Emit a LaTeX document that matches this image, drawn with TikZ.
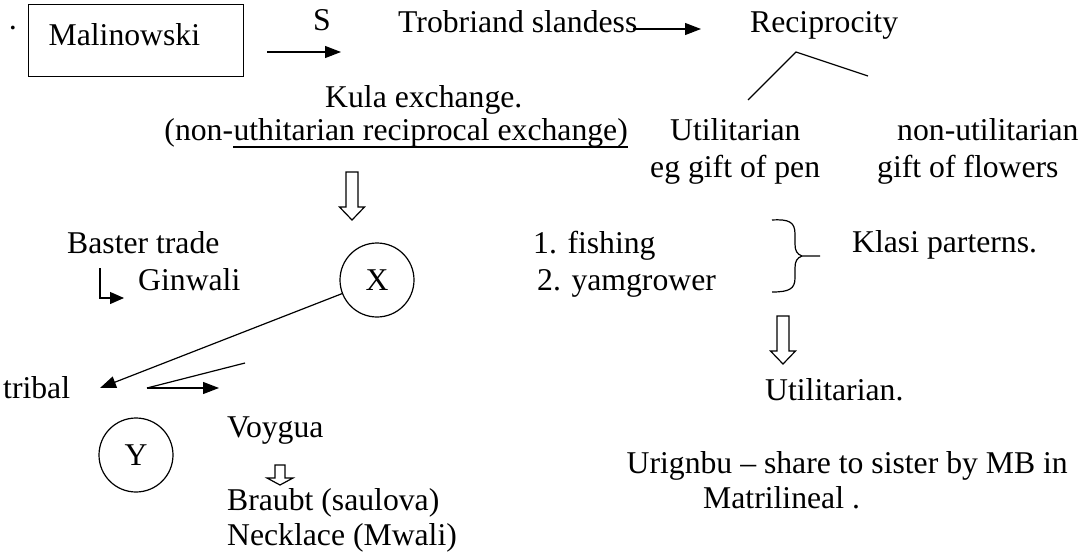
\documentclass[tikz,border=0pt]{standalone}
\usepackage{fontspec}
\setmainfont{Liberation Serif}
\usetikzlibrary{arrows.meta}
\begin{document}
\begin{tikzpicture}[x=1pt,y=-1pt,
  txt/.style={font=\fontsize{31.7}{36}\selectfont, inner sep=0pt, anchor=base west},
  ln/.style={line width=1.2pt},
  arr/.style={ln, -{Triangle[length=16pt,width=12pt]}},
  circ/.style={draw, ln, circle, minimum size=74pt, inner sep=0pt, font=\fontsize{31.7}{36}\selectfont},
  bighollow/.pic={\draw[ln, line join=miter] (-6,0) -- (-6,35) -- (-12.5,35) -- (0,48) -- (12.5,35) -- (6,35) -- (6,0) -- cycle;},
  smallhollow/.pic={\draw[ln, line join=miter] (-5,0) -- (-5,13) -- (-13,13) -- (0,20) -- (13,13) -- (5,13) -- (5,0) -- cycle;}
]
\useasboundingbox (0,0) rectangle (1088,552);

% top row
\node[txt, anchor=base] (dot) at (13,38) {·};
\node[draw, line width=1.3pt, anchor=north west, inner xsep=20pt, inner ysep=0pt,
      text width=175pt, align=left, minimum height=72pt, text height=21.7pt, text depth=12.8pt,
      font=\fontsize{31.7}{36}\selectfont] (mal) at (28,4) {Malinowski};
\coordinate (s1) at (267,52);
\coordinate (s2) at (341,52);
\draw[arr] (s1) -- (s2);
\node[txt] (S) at (313,30) {S};
\node[txt] (tro) at (398,32) {Trobriand slandess};
\coordinate (t1) at (633,29);
\coordinate (t2) at (701,29);
\draw[arr] (t1) -- (t2);
\node[txt] (rec) at (750,32) {Reciprocity};
\coordinate (r0) at (796,52);
\coordinate (rL) at (748,100);
\coordinate (rR) at (868,76);
\draw[ln] (rL) -- (r0) -- (rR);

% second block
\node[txt] (kula) at (325,107) {Kula exchange.};
\node[txt, anchor=base east] (kul2) at (628,140) {uthitarian reciprocal exchange)};
\node[txt, anchor=base east] (kul1) at (kul2.base west) {(non-};
\draw[line width=1.5pt] ([yshift=-7pt]kul2.base west) -- ([yshift=-7pt]kul2.base east);
\node[txt] (util) at (670,140) {Utilitarian};
\node[txt] (pen) at (650,177) {eg gift of pen};
\node[txt] (nonutil) at (897,140) {non-utilitarian};
\node[txt] (flow) at (877,177) {gift of flowers};

\pic at (352,172) {bighollow};

% middle
\node[txt] (bas) at (67,253) {Baster trade};
\node[txt] (gin) at (138,290) {Ginwali};
\coordinate (b1) at (100,268);
\coordinate (b2) at (124,298);
\draw[ln, -{Triangle[length=14pt,width=12pt]}] (b1) |- (b2);
\node[circ] (X) at (377,280) {X};
\node[txt] (fish) at (533,253) {1. fishing};
\node[txt] (yam) at (537,290) {2. yamgrower};
\draw[ln] (772,220) .. controls (789,219) and (795,222) .. (795,234) -- (795,244)
   .. controls (795,251) and (797,254) .. (802,256) -- (820,256);
\draw[ln] (802,256) .. controls (797,258) and (795,261) .. (795,268) -- (795,278)
   .. controls (795,289) and (789,292) .. (772,292);
\node[txt] (klasi) at (852,252) {Klasi parterns.};
\pic at (783,316) {bighollow};

% lower
\node[txt] (tribal) at (3,398) {tribal};
\coordinate (trtip) at (100,388);
\draw[arr] (X) -- (trtip);
\coordinate (v0) at (147,388);
\coordinate (v1) at (245,363);
\coordinate (v2) at (219,388);
\draw[ln] (v0) -- (v1);
\draw[arr] (v0) -- (v2);
\node[circ] (Y) at (136,455) {Y};
\node[txt] (voy) at (227,437) {Voygua};
\pic at (280,465) {smallhollow};
\node[txt] (bra) at (227,510) {Braubt (saulova)};
\node[txt] (neck) at (227,545) {Necklace (Mwali)};
\node[txt] (util2) at (765,400) {Utilitarian.};
\node[txt, anchor=base east] (uri) at (1068,473) {Urignbu – share to sister by MB in};
\node[txt] (mat) at (703,508) {Matrilineal .};
\end{tikzpicture}
\end{document}
